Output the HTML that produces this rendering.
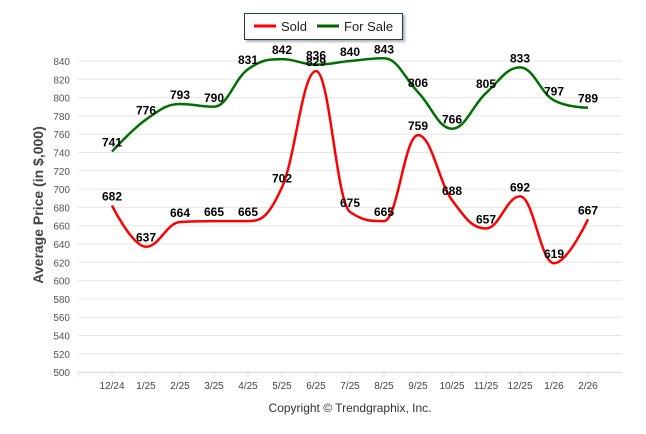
<!DOCTYPE html>
<html><head><meta charset="utf-8"><style>
html,body{margin:0;padding:0;background:#fff;width:646px;height:434px;overflow:hidden}
svg text{font-family:"Liberation Sans",Arial,sans-serif}
</style></head><body>
<svg id="s" width="646" height="434" xmlns="http://www.w3.org/2000/svg">
<rect width="646" height="434" fill="#fff"/>
<g id="grid"></g>
<g id="lines"></g>
<g id="labels"></g>
<defs><filter id="sh" x="-10%" y="-10%" width="130%" height="150%"><feDropShadow dx="2" dy="2" stdDeviation="1" flood-color="#000" flood-opacity="0.3"/></filter></defs>
<rect x="244.5" y="13.5" width="158" height="26" fill="#fff" stroke="#1f3864" stroke-width="1" filter="url(#sh)"/>
<line x1="254" y1="26" x2="276" y2="26" stroke="#ff0000" stroke-width="3"/>
<text x="281" y="31" font-size="13" fill="#222">Sold</text>
<line x1="317" y1="26" x2="339" y2="26" stroke="#006400" stroke-width="3"/>
<text x="344" y="31" font-size="13" fill="#222">For Sale</text>
<text x="0" y="0" font-size="14" font-weight="bold" fill="#444" text-anchor="middle" transform="translate(43,205) rotate(-90)">Average Price (in $,000)</text>
<text x="350" y="412" font-size="12" fill="#333" text-anchor="middle">Copyright © Trendgraphix, Inc.</text>
</svg>
<script>
var NS="http://www.w3.org/2000/svg";
function Y(v){return 61+(840-v)/20*18.3;}
function X(i){return 112+34*i;}
function el(t,a,p,txt){var e=document.createElementNS(NS,t);for(var k in a)e.setAttribute(k,a[k]);if(txt!=null)e.textContent=txt;document.getElementById(p).appendChild(e);}
for(var v=500;v<=840;v+=20){var y=Y(v);el("line",{x1:78,x2:622,y1:y,y2:y,stroke:"#e6e6e6","stroke-width":1},"grid");
el("text",{x:70,y:y+4,"font-size":"10","fill":"#555","text-anchor":"end"},"grid",v);}
el("line",{x1:78,x2:622,y1:Y(500)+0.5,y2:Y(500)+0.5,stroke:"#ddd"},"grid");
var xl=["12/24","1/25","2/25","3/25","4/25","5/25","6/25","7/25","8/25","9/25","10/25","11/25","12/25","1/26","2/26"];
for(var i=0;i<=15;i++){var x=78+34*i;el("line",{x1:x,x2:x,y1:Y(500),y2:Y(500)+5,stroke:"#ddd"},"grid");}
xl.forEach(function(l,i){el("text",{x:X(i),y:389,"font-size":"10","fill":"#444","text-anchor":"middle"},"grid",l);});
function path(d){var s=1.5,p="M"+X(0)+" "+Y(d[0]);
var pts=d.map(function(v,i){return[X(i),Y(v)];});
function ctrl(i){
var pr=pts[i-1],c=pts[i],n=pts[i+1];
var lx=(s*c[0]+pr[0])/(s+1),ly=(s*c[1]+pr[1])/(s+1),rx=(s*c[0]+n[0])/(s+1),ry=(s*c[1]+n[1])/(s+1);
var corr=0;if(rx!==lx){corr=((ry-ly)*(rx-c[0]))/(rx-lx)+c[1]-ry;}
ly+=corr;ry+=corr;
if(ly>pr[1]&&ly>c[1]){ly=Math.max(pr[1],c[1]);ry=2*c[1]-ly;}else if(ly<pr[1]&&ly<c[1]){ly=Math.min(pr[1],c[1]);ry=2*c[1]-ly;}
if(ry>n[1]&&ry>c[1]){ry=Math.max(n[1],c[1]);ly=2*c[1]-ry;}else if(ry<n[1]&&ry<c[1]){ry=Math.min(n[1],c[1]);ly=2*c[1]-ry;}
return[[lx,ly],[rx,ry]];}
var C=[];for(var i=1;i<pts.length-1;i++)C[i]=ctrl(i);
for(var i=1;i<pts.length;i++){var a=i-1>0?C[i-1][1]:pts[i-1];var b=i<pts.length-1?C[i][0]:pts[i];
p+=" C"+a[0]+" "+a[1]+" "+b[0]+" "+b[1]+" "+pts[i][0]+" "+pts[i][1];}
return p;}
var sold=[682,637,664,665,665,702,829,675,665,759,688,657,692,619,667];
var fs=[741,776,793,790,831,842,836,840,843,806,766,805,833,797,789];
el("path",{d:path(fs),fill:"none",stroke:"#007000","stroke-width":2.5},"lines");
el("path",{d:path(sold),fill:"none",stroke:"#ff0000","stroke-width":2.5},"lines");
function lab(d){d.forEach(function(v,i){el("text",{x:X(i),y:Y(v)-5,"font-size":"12","font-weight":"bold","fill":"#000","text-anchor":"middle"},"labels",v);});}
lab(fs);lab(sold);
</script>
</body></html>
